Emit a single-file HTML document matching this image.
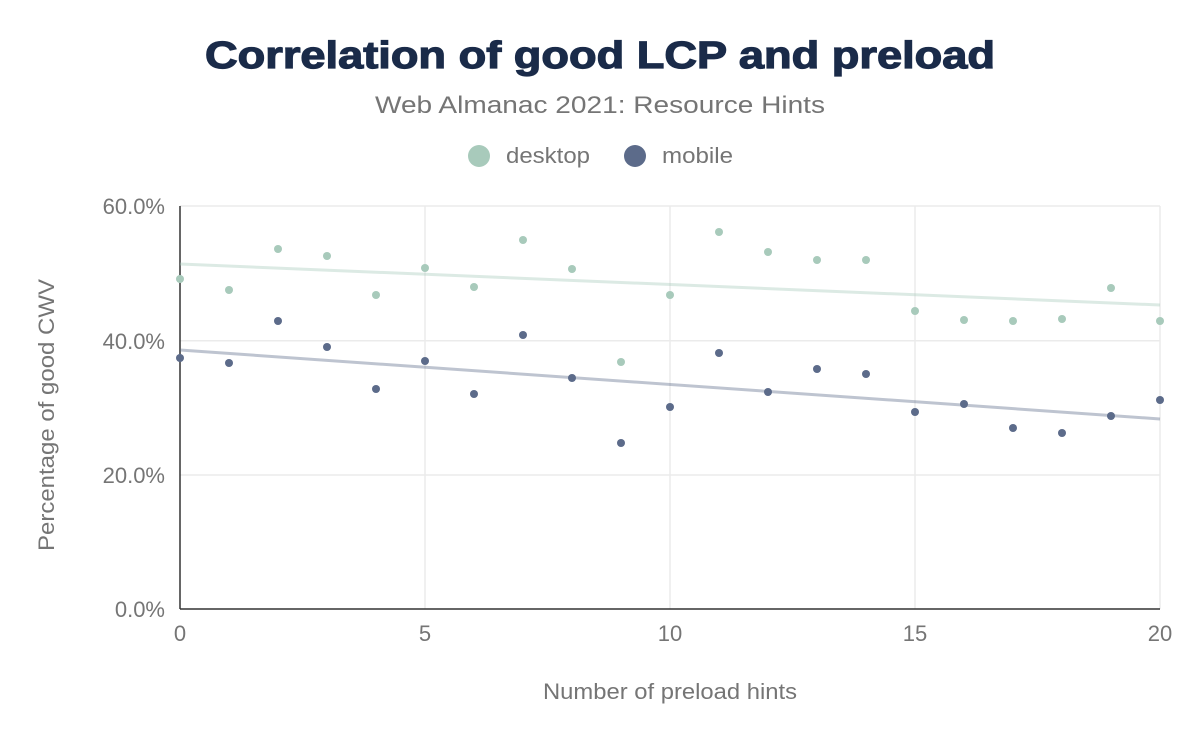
<!DOCTYPE html>
<html><head><meta charset="utf-8"><style>
body{margin:0;background:#fff;}
svg{display:block;font-family:"Liberation Sans",sans-serif;}
</style></head><body>
<svg width="1200" height="742" xmlns="http://www.w3.org/2000/svg">
<rect width="1200" height="742" fill="#fff"/>
<text x="600" y="68" text-anchor="middle" font-size="38" font-weight="bold" fill="#1a2b49" textLength="790" lengthAdjust="spacingAndGlyphs" stroke="#1a2b49" stroke-width="1.2">Correlation of good LCP and preload</text>
<text x="600" y="113" text-anchor="middle" font-size="24" fill="#757575" textLength="450" lengthAdjust="spacingAndGlyphs">Web Almanac 2021: Resource Hints</text>
<circle cx="479" cy="156" r="11" fill="#a8cabb"/>
<text x="506" y="163" font-size="22" fill="#757575" textLength="84" lengthAdjust="spacingAndGlyphs">desktop</text>
<circle cx="635" cy="156" r="11" fill="#5c6b8a"/>
<text x="662" y="163" font-size="22" fill="#757575" textLength="71" lengthAdjust="spacingAndGlyphs">mobile</text>
<g stroke="#ebebeb" stroke-width="1.5">
<line x1="180" y1="206" x2="1160" y2="206"/>
<line x1="180" y1="340.7" x2="1160" y2="340.7"/>
<line x1="180" y1="475" x2="1160" y2="475"/>
<line x1="425" y1="206" x2="425" y2="609"/>
<line x1="670" y1="206" x2="670" y2="609"/>
<line x1="915" y1="206" x2="915" y2="609"/>
<line x1="1160" y1="206" x2="1160" y2="609"/>
</g>
<line x1="180" y1="206" x2="180" y2="609" stroke="#333" stroke-width="1.5"/>
<line x1="180" y1="609" x2="1160" y2="609" stroke="#333" stroke-width="1.5"/>
<g font-size="22" fill="#757575" text-anchor="end">
<text x="165" y="214">60.0%</text><text x="165" y="349">40.0%</text><text x="165" y="483">20.0%</text><text x="165" y="617">0.0%</text>
</g>
<g font-size="22" fill="#757575" text-anchor="middle">
<text x="180" y="641">0</text><text x="425" y="641">5</text><text x="670" y="641">10</text><text x="915" y="641">15</text><text x="1160" y="641">20</text>
<text x="670" y="699" textLength="254" lengthAdjust="spacingAndGlyphs">Number of preload hints</text>
<text transform="translate(54,415) rotate(-90)" textLength="272" lengthAdjust="spacingAndGlyphs">Percentage of good CWV</text>
</g>
<line x1="180" y1="264" x2="1160" y2="305" stroke="#a8cabb" stroke-opacity="0.4" stroke-width="3"/>
<line x1="180" y1="350" x2="1160" y2="419" stroke="#5c6b8a" stroke-opacity="0.4" stroke-width="3"/>
<g fill="#a8cabb">
<circle cx="180" cy="279" r="4"/><circle cx="229" cy="290" r="4"/><circle cx="278" cy="249" r="4"/><circle cx="327" cy="256" r="4"/><circle cx="376" cy="295" r="4"/><circle cx="425" cy="268" r="4"/><circle cx="474" cy="287" r="4"/><circle cx="523" cy="240" r="4"/><circle cx="572" cy="269" r="4"/><circle cx="621" cy="362" r="4"/><circle cx="670" cy="295" r="4"/><circle cx="719" cy="232" r="4"/><circle cx="768" cy="252" r="4"/><circle cx="817" cy="260" r="4"/><circle cx="866" cy="260" r="4"/><circle cx="915" cy="311" r="4"/><circle cx="964" cy="320" r="4"/><circle cx="1013" cy="321" r="4"/><circle cx="1062" cy="319" r="4"/><circle cx="1111" cy="288" r="4"/><circle cx="1160" cy="321" r="4"/>
</g>
<g fill="#5c6b8a">
<circle cx="180" cy="358" r="4"/><circle cx="229" cy="363" r="4"/><circle cx="278" cy="321" r="4"/><circle cx="327" cy="347" r="4"/><circle cx="376" cy="389" r="4"/><circle cx="425" cy="361" r="4"/><circle cx="474" cy="394" r="4"/><circle cx="523" cy="335" r="4"/><circle cx="572" cy="378" r="4"/><circle cx="621" cy="443" r="4"/><circle cx="670" cy="407" r="4"/><circle cx="719" cy="353" r="4"/><circle cx="768" cy="392" r="4"/><circle cx="817" cy="369" r="4"/><circle cx="866" cy="374" r="4"/><circle cx="915" cy="412" r="4"/><circle cx="964" cy="404" r="4"/><circle cx="1013" cy="428" r="4"/><circle cx="1062" cy="433" r="4"/><circle cx="1111" cy="416" r="4"/><circle cx="1160" cy="400" r="4"/>
</g>
</svg>
</body></html>
